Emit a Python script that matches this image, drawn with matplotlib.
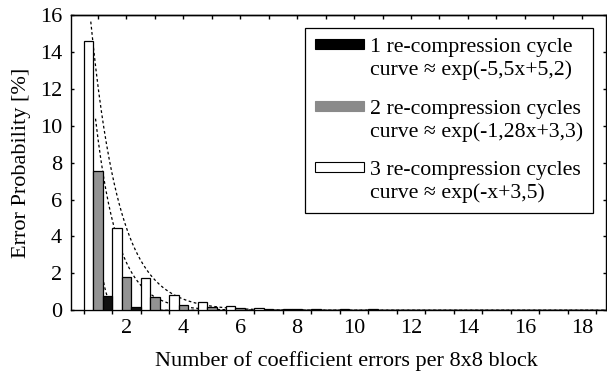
import numpy as np
import matplotlib
matplotlib.use('Agg')
from matplotlib import pyplot as plt
from matplotlib.patches import Rectangle
from matplotlib.legend_handler import HandlerPatch

# error probability [%] for each number of coefficient errors (1..18)
n_errors = np.arange(1, 19)
cycles3 = [14.6, 4.44, 1.77, 0.81, 0.45, 0.23, 0.12, 0.08, 0.06,
           0.05, 0.05, 0.04, 0.04, 0.04, 0.03, 0.03, 0.03, 0.03]
cycles2 = [7.56, 1.82, 0.71, 0.30, 0.16, 0.12, 0.06, 0.05, 0.04,
           0.04, 0.03, 0.03, 0.03, 0.03, 0.03, 0.03, 0.03, 0.03]
cycles1 = [0.79, 0.18, 0.04, 0.02, 0.01, 0.01, 0.01, 0.01, 0.01,
           0.01, 0.01, 0.01, 0.01, 0.01, 0.01, 0.01, 0.01, 0.01]

# fitted curves from the legend: exp(-a*x + b)
fit1 = (5.5, 5.2)
fit2 = (1.28, 3.3)
fit3 = (1.0, 3.5)

labels = ['1 re-compression cycle\ncurve \u2248 exp(-5,5x+5,2)',
          '2 re-compression cycles\ncurve \u2248 exp(-1,28x+3,3)',
          '3 re-compression cycles\ncurve \u2248 exp(-x+3,5)']

plt.rcParams['font.family'] = ['Liberation Serif', 'DejaVu Serif']

fig = plt.figure(figsize=(6.07, 3.73), dpi=100)
ax = fig.add_axes([71 / 607, 62.7 / 373, 535 / 607, 295.3 / 373])

w = 1 / 3
black = '#111111'
gray = '#939393'
ax.bar(n_errors - w, cycles3, w, color='white', edgecolor='black', lw=0.9, zorder=3)
ax.bar(n_errors, cycles2, w, color=gray, edgecolor='black', lw=0.9, zorder=3)
ax.bar(n_errors + w, cycles1, w, color=black, edgecolor='black', lw=0.9, zorder=3)

# dashed fitted curves (shifted a bit towards their bars)
xs = np.linspace(0.75, 19, 600)
for (a, b), shift in [(fit3, 0.0), (fit2, 1 / 6), (fit1, 1 / 3)]:
    ax.plot(xs + shift, np.exp(-a * xs + b), color='black', lw=0.9,
            ls=(0, (2.2, 2.0)), zorder=2)

ax.set_xlim(0.055, 18.85)
ax.set_ylim(0, 16)

# bottom axis: labels on even numbers, ticks between groups
ax.set_xticks(np.arange(2, 19, 2))
ax.set_xticks(np.arange(0.5, 19, 1), minor=True)
ax.tick_params(axis='x', which='major', length=0, pad=6, labelsize=16)
ax.tick_params(axis='x', which='minor', direction='out', length=3, width=1)
ax.set_yticks(np.arange(0, 17, 2))
ax.tick_params(axis='y', direction='in', length=2.5, width=1, pad=6.5,
               labelsize=16, right=True)
top = ax.secondary_xaxis('top')
top.set_xticks(n_errors)
top.tick_params(direction='in', length=3, width=1, labeltop=False)

for s in ax.spines.values():
    s.set_linewidth(1.0)
top.spines['top'].set_linewidth(1.0)

ax.set_xlabel('Number of coefficient errors per 8x8 block', fontsize=16, va='center')
ax.xaxis.set_label_coords(0.515, -0.171)
ax.set_ylabel('Error Probability [%]', fontsize=16, va='center')
ax.yaxis.set_label_coords(-0.092, 0.5)


class RaisedPatch(HandlerPatch):
    # put the swatch next to the first line of the two-line label
    def __init__(self):
        super().__init__(patch_func=self.make)

    @staticmethod
    def make(legend, orig_handle, xdescent, ydescent, width, height, fontsize):
        return Rectangle((-xdescent, -ydescent + 0.65 * fontsize), width, height)


handles = [Rectangle((0, 0), 1, 1, facecolor='black', edgecolor='black', lw=0.8),
           Rectangle((0, 0), 1, 1, facecolor='#8a8a8a', edgecolor='#8a8a8a', lw=0.8),
           Rectangle((0, 0), 1, 1, facecolor='white', edgecolor='black', lw=0.8)]
leg = ax.legend(handles, labels, loc='upper right', bbox_to_anchor=(0.975, 0.955),
                fontsize=15.7, frameon=True, fancybox=False, framealpha=1,
                edgecolor='black', handlelength=2.25, handleheight=0.35,
                handletextpad=0.28, labelspacing=0.9, borderpad=0.45,
                borderaxespad=0, handler_map={Rectangle: RaisedPatch()})
leg.get_frame().set_linewidth(0.9)
for t in leg.get_texts():
    t.set_linespacing(1.22)

fig.savefig('out.png', dpi=100)
